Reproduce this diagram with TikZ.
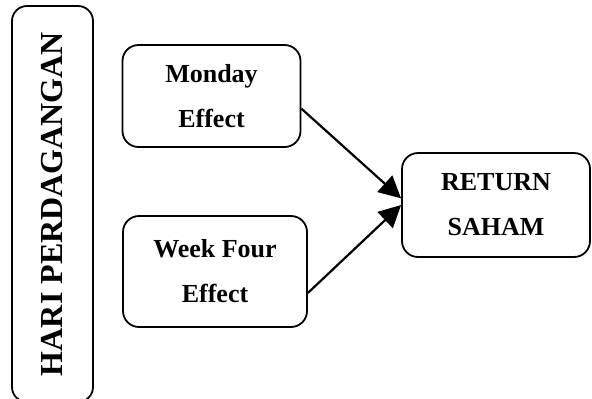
\documentclass[tikz,border=0pt]{standalone}
\usepackage{fontspec}
\setmainfont{Liberation Serif}
\usetikzlibrary{arrows.meta}
\begin{document}
\begin{tikzpicture}[x=0.5pt,y=-0.5pt,
  box/.style={draw,line width=0.9pt,rounded corners=8pt,align=center,inner sep=0pt,
    font=\fontsize{13}{22.5}\selectfont\bfseries},
  link/.style={-{Triangle[length=11pt,width=11pt]},line width=1.1pt}]
\useasboundingbox (0,0) rectangle (592,398);
% tall label on the left
\node[box,rotate=90,minimum width=198pt,minimum height=40.5pt,rounded corners=7.5pt,
  font=\fontsize{16}{19}\selectfont\bfseries] (hari) at (52.5,204) {HARI PERDAGANGAN};

\node[box,minimum width=89pt,minimum height=51pt] (monday) at (211.5,96) {Monday\\Effect};
\node[box,minimum width=92pt,minimum height=55.5pt] (week) at (215,271.5) {Week Four\\Effect};
\node[box,minimum width=94pt,minimum height=52pt] (ret) at (496,205) {RETURN\\SAHAM};

\draw[link] (monday.-8) -- (ret.176);
\draw[link] (week.-13) -- (ret.west);
\end{tikzpicture}
\end{document}
